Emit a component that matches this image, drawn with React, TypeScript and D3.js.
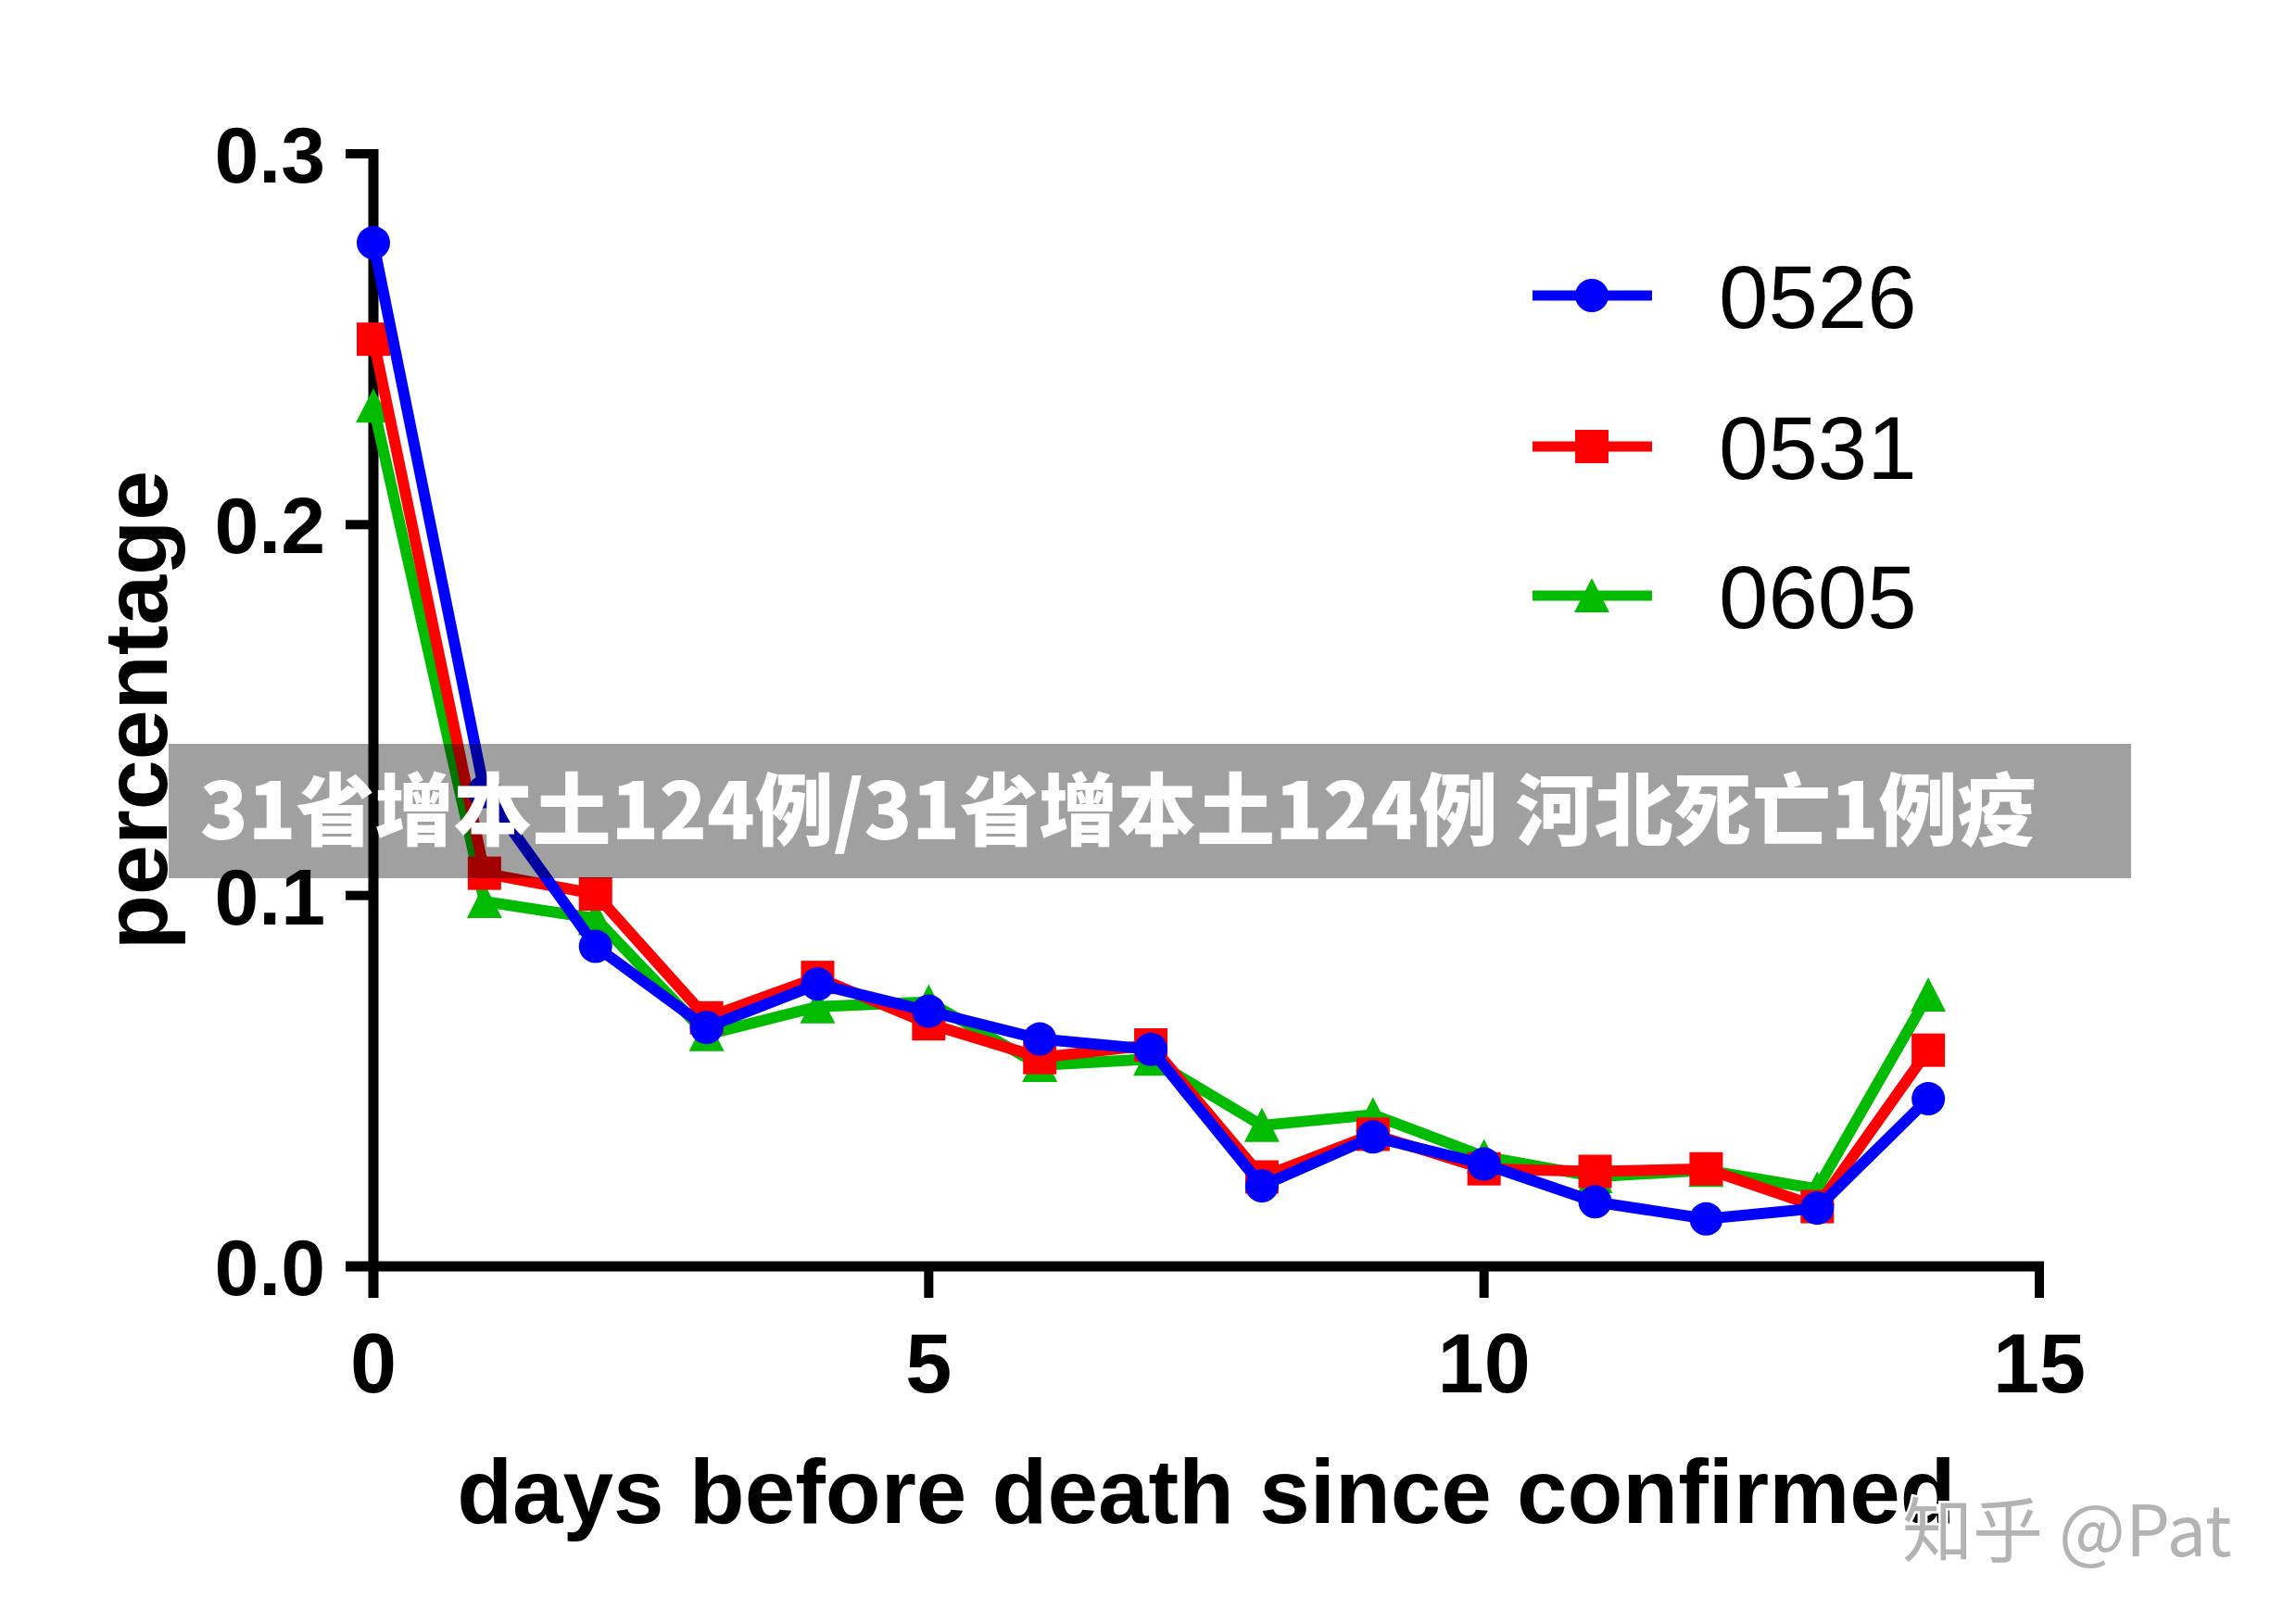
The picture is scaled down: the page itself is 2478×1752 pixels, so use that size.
import React from "react";
import * as d3 from "d3";

const days = [0, 1, 2, 3, 4, 5, 6, 7, 8, 9, 10, 11, 12, 13, 14];
const s0526 = [0.276, 0.128, 0.0863, 0.0644, 0.0761, 0.0688, 0.0613, 0.0585, 0.0217, 0.0349, 0.0276, 0.0174, 0.0128, 0.0157, 0.0452];
const s0531 = [0.250, 0.106, 0.1004, 0.067, 0.0779, 0.0654, 0.0563, 0.0597, 0.0241, 0.0356, 0.0263, 0.0256, 0.0263, 0.0161, 0.0583];
const s0605 = [0.232, 0.0984, 0.0938, 0.0625, 0.07, 0.0713, 0.0542, 0.0559, 0.038, 0.0409, 0.0296, 0.0242, 0.0259, 0.0209, 0.0732];
const seriesNames = ["0526", "0531", "0605"];
const seriesColors = ["#0000ff", "#ff0000", "#00bb00"];
const seriesShapes = ["circle", "square", "triangle"];
const xTicks = [0, 5, 10, 15];
const yTicks = [0, 0.1, 0.2, 0.3];
const xTitle = "days before death since confirmed";
const yTitle = "percentage";
const bannerText = "31省增本土124例/31省增本土124例 河北死亡1例疫";
const watermark = "知乎 @Pat";

const W = 2478;
const H = 1752;
const FONT = "'Liberation Sans', Arial, Helvetica, sans-serif";

function Marker({ shape, color, cx, cy }: { shape: string; color: string; cx: number; cy: number }) {
  if (shape === "circle") return <circle cx={cx} cy={cy} r={18} fill={color} />;
  if (shape === "square") return <rect x={cx - 18} y={cy - 18} width={36} height={36} fill={color} />;
  return <path d={`M${cx},${cy - 19} L${cx + 19},${cy + 18} L${cx - 19},${cy + 18} Z`} fill={color} />;
}

export default function App() {
  const x = d3.scaleLinear().domain([0, 15]).range([403, 2201]);
  const y = d3.scaleLinear().domain([0, 0.3]).range([1367, 166]);
  const allSeries = [s0526, s0531, s0605];
  const line = d3
    .line<number>()
    .x((_, i) => x(days[i]))
    .y((d) => y(d));
  const drawOrder = [2, 1, 0];
  const legendY = [319, 482, 643];

  return (
    <svg
      width={W}
      height={H}
      viewBox={`0 0 ${W} ${H}`}
      style={{ position: "absolute", left: 0, top: 0, background: "#fff" }}
    >
      <rect x={0} y={0} width={W} height={H} fill="#fff" />

      {/* axes */}
      <line x1={x(0)} x2={x(0)} y1={y(0.3) - 5} y2={y(0) + 34} stroke="#000" strokeWidth={11} />
      <line x1={x(0) - 30} x2={x(15) + 5} y1={y(0)} y2={y(0)} stroke="#000" strokeWidth={11} />
      {yTicks.map((t) => (
        <g key={"y" + t}>
          <line x1={x(0) - 30} x2={x(0)} y1={y(t)} y2={y(t)} stroke="#000" strokeWidth={10} />
          <text
            x={x(0) - 52}
            y={y(t) + 31}
            textAnchor="end"
            fontFamily={FONT}
            fontWeight="bold"
            fontSize={86}
            fill="#000"
          >
            {t.toFixed(1)}
          </text>
        </g>
      ))}
      {xTicks.map((t) => (
        <g key={"x" + t}>
          <line x1={x(t)} x2={x(t)} y1={y(0)} y2={y(0) + 34} stroke="#000" strokeWidth={10} />
          <text
            x={x(t)}
            y={1503}
            textAnchor="middle"
            fontFamily={FONT}
            fontWeight="bold"
            fontSize={90}
            fill="#000"
          >
            {t}
          </text>
        </g>
      ))}
      <text x={(x(0) + x(15)) / 2} y={1644} textAnchor="middle" fontFamily={FONT} fontWeight="bold" fontSize={98} fill="#000">
        {xTitle}
      </text>
      <text
        transform={`translate(180, ${(y(0) + y(0.3)) / 2}) rotate(-90)`}
        textAnchor="middle"
        fontFamily={FONT}
        fontWeight="bold"
        fontSize={97}
        fill="#000"
      >
        {yTitle}
      </text>

      {/* series */}
      {drawOrder.map((si) => (
        <g key={"s" + si}>
          <path d={line(allSeries[si]) || ""} fill="none" stroke={seriesColors[si]} strokeWidth={12} strokeLinejoin="miter" />
          {allSeries[si].map((v, i) => (
            <Marker key={i} shape={seriesShapes[si]} color={seriesColors[si]} cx={x(days[i])} cy={y(v)} />
          ))}
        </g>
      ))}

      {/* legend */}
      {seriesNames.map((n, i) => (
        <g key={"l" + n}>
          <line x1={1654} x2={1783} y1={legendY[i]} y2={legendY[i]} stroke={seriesColors[i]} strokeWidth={11} />
          <Marker shape={seriesShapes[i]} color={seriesColors[i]} cx={1718} cy={legendY[i]} />
          <text x={1855} y={legendY[i] + 35} fontFamily={FONT} fontSize={96} fill="#000">
            {n}
          </text>
        </g>
      ))}

      {/* banner overlay */}
      <rect x={182} y={803} width={2118} height={145} fill="#000" fillOpacity={0.373} />
      <text x={216} y={906} fontFamily="'Noto Sans CJK SC', 'Noto Sans', sans-serif" fontWeight={900} fontSize={85} fill="#fff">
        {bannerText}
      </text>

      {/* watermark */}
      <text
        x={2053}
        y={1680}
        fontFamily="'Noto Sans CJK SC', 'Noto Sans', sans-serif"
        fontSize={76}
        fill="#b3b3b3"
        stroke="#fff"
        strokeWidth={5}
        style={{ paintOrder: "stroke" }}
      >
        {watermark}
      </text>
    </svg>
  );
}
